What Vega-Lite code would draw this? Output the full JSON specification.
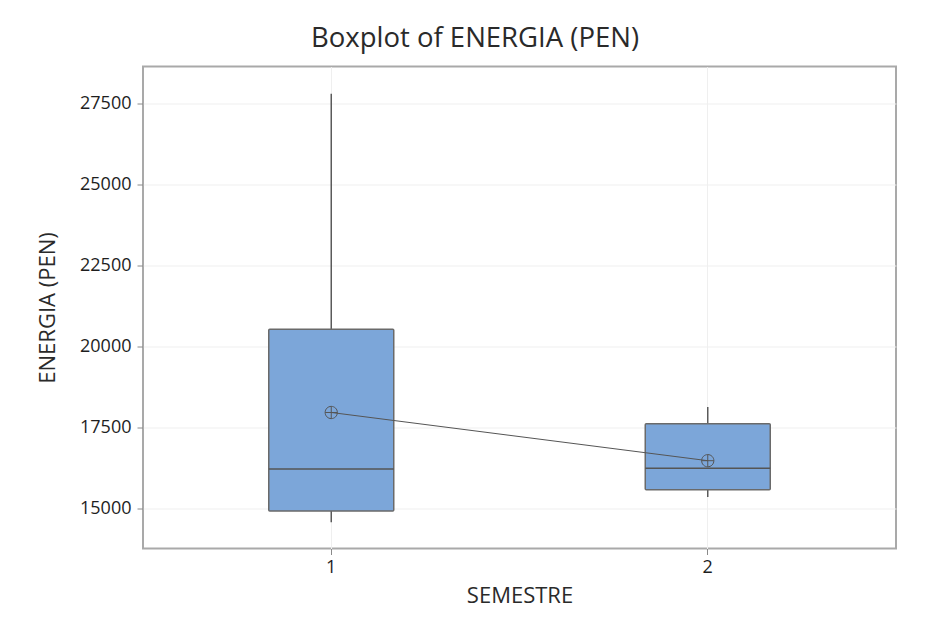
{
  "$schema": "https://vega.github.io/schema/vega-lite/v6.json",
  "width": 753,
  "height": 482,
  "autosize": {"type": "none"},
  "padding": {"left": 143, "top": 66.5, "right": 29, "bottom": 77.5},
  "background": "#ffffff",
  "config": {
    "font": "Open Sans",
    "view": {"stroke": "#a9a9a9", "strokeWidth": 2},
    "axis": {
      "domain": false,
      "grid": true,
      "gridColor": "#efefef",
      "gridWidth": 1,
      "tickColor": "#8a8a8a",
      "tickSize": 6,
      "labelFont": "Open Sans",
      "labelFontSize": 18,
      "labelColor": "#1e1e1e",
      "titleFont": "Open Sans",
      "titleFontSize": 22,
      "titleFontWeight": "normal",
      "titleColor": "#2a2a2a"
    }
  },
  "title": {
    "text": "Boxplot of ENERGIA (PEN)",
    "font": "Open Sans",
    "fontSize": 27.5,
    "fontWeight": "normal",
    "color": "#2a2a2a",
    "anchor": "middle",
    "frame": "group",
    "baseline": "alphabetic",
    "offset": -8,
    "dx": -44.5
  },
  "data": {
    "values": [
      {"SEMESTRE": "1", "lower": 14588, "q1": 14938, "median": 16231, "q3": 20545, "upper": 27808, "mean": 17974},
      {"SEMESTRE": "2", "lower": 15369, "q1": 15594, "median": 16250, "q3": 17626, "upper": 18140, "mean": 16487}
    ]
  },
  "encoding": {
    "x": {
      "field": "SEMESTRE",
      "type": "nominal",
      "scale": {"type": "band", "paddingInner": 0, "paddingOuter": 0},
      "axis": {"title": "SEMESTRE", "labelAngle": 0, "labelPadding": 4, "titlePadding": 9, "bandPosition": 0.5}
    }
  },
  "layer": [
    {
      "mark": {"type": "rule", "color": "#5a5a5a", "strokeWidth": 1.5},
      "encoding": {
        "y": {
          "field": "lower",
          "type": "quantitative",
          "scale": {"domain": [13778, 28648], "nice": false, "zero": false},
          "axis": {
            "title": "ENERGIA (PEN)",
            "values": [15000, 17500, 20000, 22500, 25000, 27500],
            "format": "d",
            "labelPadding": 6,
            "titlePadding": 20
          }
        },
        "y2": {"field": "upper"}
      }
    },
    {
      "mark": {"type": "bar", "size": 125, "fill": "#7ca6d9", "stroke": "#6a6a6a", "strokeWidth": 1.5, "cornerRadius": 1},
      "encoding": {
        "y": {"field": "q1", "type": "quantitative"},
        "y2": {"field": "q3"}
      }
    },
    {
      "mark": {"type": "tick", "size": 125, "thickness": 1.5, "color": "#555555", "opacity": 1},
      "encoding": {
        "y": {"field": "median", "type": "quantitative"}
      }
    },
    {
      "mark": {"type": "line", "color": "#555555", "strokeWidth": 1},
      "encoding": {
        "y": {"field": "mean", "type": "quantitative"}
      }
    },
    {
      "mark": {
        "type": "point",
        "shape": "M-1,0A1,1 0 1,1 1,0A1,1 0 1,1 -1,0ZM-1,0L1,0M0,-1L0,1",
        "size": 150,
        "filled": false,
        "stroke": "#555555",
        "strokeWidth": 1,
        "opacity": 1
      },
      "encoding": {
        "y": {"field": "mean", "type": "quantitative"}
      }
    }
  ]
}
